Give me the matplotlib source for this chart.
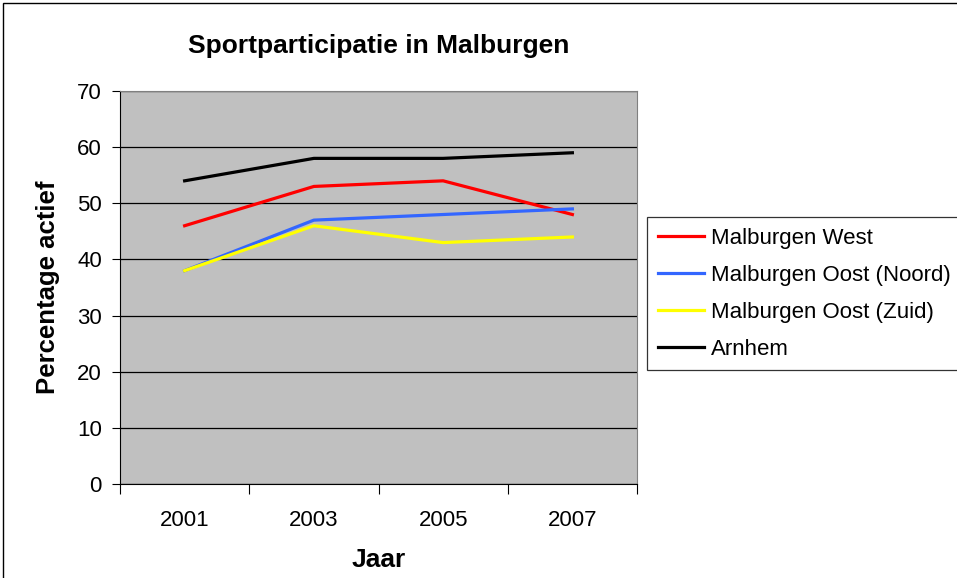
import matplotlib.pyplot as plt
from matplotlib.patches import Rectangle

plt.rcParams['font.family'] = ['Liberation Sans', 'DejaVu Sans']

# data
jaren = ['2001', '2003', '2005', '2007']
west = [46, 53, 54, 48]
oost_noord = [38, 47, 48, 49]
oost_zuid = [38, 46, 43, 44]
arnhem = [54, 58, 58, 59]

W, H = 957, 578
fig = plt.figure(figsize=(W / 100, H / 100), dpi=100)
ax = fig.add_axes([120 / W, (H - 484) / H, (637 - 120) / W, (484 - 91) / H])
ax.set_facecolor('#c0c0c0')

x = range(len(jaren))
ax.plot(x, west, color='#ff0000', lw=2.3, label='Malburgen West')
ax.plot(x, oost_noord, color='#3366ff', lw=2.3, label='Malburgen Oost (Noord)')
ax.plot(x, oost_zuid, color='#ffff00', lw=2.3, label='Malburgen Oost (Zuid)')
ax.plot(x, arnhem, color='#000000', lw=2.3, label='Arnhem')

ax.set_xlim(-0.5, len(jaren) - 0.5)
ax.set_ylim(0, 70)
ax.set_yticks(range(0, 71, 10))
ax.yaxis.grid(True, color='black', lw=0.9)
ax.set_axisbelow(True)

# category axis: ticks between categories, labels centred
ax.set_xticks([i - 0.5 for i in range(len(jaren) + 1)])
ax.set_xticklabels([])
ax.set_xticks(list(x), minor=True)
ax.set_xticklabels(jaren, minor=True)
ax.tick_params(axis='x', which='major', length=7, color='black', direction='out')
ax.tick_params(axis='x', which='minor', length=0, pad=19, labelsize=16)
ax.tick_params(axis='y', length=6, labelsize=16, pad=7)

for s in ['top', 'right']:
    ax.spines[s].set_color('#808080')
for s in ['left', 'bottom']:
    ax.spines[s].set_color('black')

ax.set_title('Sportparticipatie in Malburgen', fontsize=19, fontweight='bold', pad=27)
ax.set_xlabel('Jaar', fontsize=19, fontweight='bold', labelpad=12)
ax.set_ylabel('Percentage actief', fontsize=18.5, fontweight='bold', labelpad=12)

leg = fig.legend(loc='upper left', bbox_to_anchor=(647 / W, (H - 217) / H),
                 frameon=True, fancybox=False, edgecolor='black', fontsize=16,
                 handlelength=2.1, handletextpad=0.3, borderpad=0.48, labelspacing=0.72,
                 borderaxespad=0)
leg.get_frame().set_linewidth(0.9)

# chart frame
fig.patches.append(Rectangle((3 / W, -0.1), 1.1, (H - 3) / H + 0.1, transform=fig.transFigure,
                             fill=False, edgecolor='black', lw=1))

plt.savefig('out.png', dpi=100)
